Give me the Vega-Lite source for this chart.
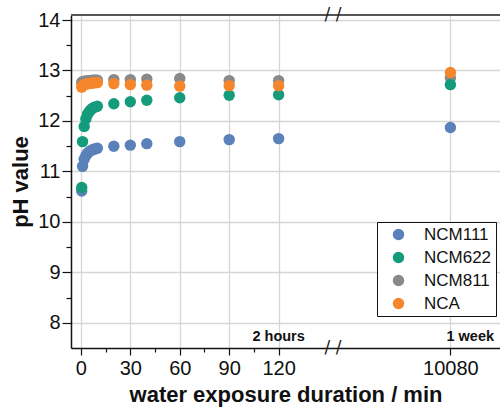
{
  "$schema": "https://vega.github.io/schema/vega-lite/v6.json",
  "width": 429,
  "height": 333,
  "autosize": {"type": "none"},
  "padding": {"left": 71, "top": 15, "right": 0, "bottom": 59},
  "background": "white",
  "config": {
    "view": {"stroke": null},
    "font": "Liberation Sans",
    "axis": {"labelFont": "Liberation Sans", "titleFont": "Liberation Sans"}
  },
  "datasets": {
    "ph": [
      {"s": "NCM811", "t": 0.5, "ph": 12.76}, {"s": "NCM811", "t": 1, "ph": 12.78}, {"s": "NCM811", "t": 2, "ph": 12.79},
      {"s": "NCM811", "t": 3, "ph": 12.79}, {"s": "NCM811", "t": 4, "ph": 12.8}, {"s": "NCM811", "t": 5, "ph": 12.8},
      {"s": "NCM811", "t": 6, "ph": 12.8}, {"s": "NCM811", "t": 7, "ph": 12.81}, {"s": "NCM811", "t": 8, "ph": 12.81},
      {"s": "NCM811", "t": 9, "ph": 12.81}, {"s": "NCM811", "t": 10, "ph": 12.81}, {"s": "NCM811", "t": 20, "ph": 12.82},
      {"s": "NCM811", "t": 30, "ph": 12.82}, {"s": "NCM811", "t": 40, "ph": 12.83}, {"s": "NCM811", "t": 60, "ph": 12.84},
      {"s": "NCM811", "t": 90, "ph": 12.8}, {"s": "NCM811", "t": 120, "ph": 12.8}, {"s": "NCM811", "t": 10080, "ph": 12.85},

      {"s": "NCM111", "t": 0.5, "ph": 10.61}, {"s": "NCM111", "t": 1, "ph": 11.1}, {"s": "NCM111", "t": 2, "ph": 11.24},
      {"s": "NCM111", "t": 3, "ph": 11.31}, {"s": "NCM111", "t": 4, "ph": 11.36}, {"s": "NCM111", "t": 5, "ph": 11.39},
      {"s": "NCM111", "t": 6, "ph": 11.41}, {"s": "NCM111", "t": 7, "ph": 11.43}, {"s": "NCM111", "t": 8, "ph": 11.44},
      {"s": "NCM111", "t": 9, "ph": 11.45}, {"s": "NCM111", "t": 10, "ph": 11.46}, {"s": "NCM111", "t": 20, "ph": 11.5},
      {"s": "NCM111", "t": 30, "ph": 11.52}, {"s": "NCM111", "t": 40, "ph": 11.55}, {"s": "NCM111", "t": 60, "ph": 11.59},
      {"s": "NCM111", "t": 90, "ph": 11.63}, {"s": "NCM111", "t": 120, "ph": 11.65}, {"s": "NCM111", "t": 10080, "ph": 11.87},

      {"s": "NCM622", "t": 0.5, "ph": 10.68}, {"s": "NCM622", "t": 1, "ph": 11.59}, {"s": "NCM622", "t": 2, "ph": 11.89},
      {"s": "NCM622", "t": 3, "ph": 12.04}, {"s": "NCM622", "t": 4, "ph": 12.13}, {"s": "NCM622", "t": 5, "ph": 12.18},
      {"s": "NCM622", "t": 6, "ph": 12.22}, {"s": "NCM622", "t": 7, "ph": 12.25}, {"s": "NCM622", "t": 8, "ph": 12.27},
      {"s": "NCM622", "t": 9, "ph": 12.28}, {"s": "NCM622", "t": 10, "ph": 12.29}, {"s": "NCM622", "t": 20, "ph": 12.34},
      {"s": "NCM622", "t": 30, "ph": 12.38}, {"s": "NCM622", "t": 40, "ph": 12.41}, {"s": "NCM622", "t": 60, "ph": 12.46},
      {"s": "NCM622", "t": 90, "ph": 12.51}, {"s": "NCM622", "t": 120, "ph": 12.52}, {"s": "NCM622", "t": 10080, "ph": 12.72},

      {"s": "NCA", "t": 0.5, "ph": 12.67}, {"s": "NCA", "t": 1, "ph": 12.7}, {"s": "NCA", "t": 2, "ph": 12.72},
      {"s": "NCA", "t": 3, "ph": 12.73}, {"s": "NCA", "t": 4, "ph": 12.74}, {"s": "NCA", "t": 5, "ph": 12.74},
      {"s": "NCA", "t": 6, "ph": 12.75}, {"s": "NCA", "t": 7, "ph": 12.75}, {"s": "NCA", "t": 8, "ph": 12.76},
      {"s": "NCA", "t": 9, "ph": 12.76}, {"s": "NCA", "t": 10, "ph": 12.76}, {"s": "NCA", "t": 20, "ph": 12.74},
      {"s": "NCA", "t": 30, "ph": 12.72}, {"s": "NCA", "t": 40, "ph": 12.71}, {"s": "NCA", "t": 60, "ph": 12.69},
      {"s": "NCA", "t": 90, "ph": 12.7}, {"s": "NCA", "t": 120, "ph": 12.7}, {"s": "NCA", "t": 10080, "ph": 12.96}
    ],
    "one": [{}]
  },
  "resolve": {"axis": {"x": "independent", "y": "independent"}},
  "layer": [
    {
      "data": {"name": "ph"},
      "mark": {"type": "point", "filled": true, "opacity": 1, "size": 130},
      "encoding": {
        "x": {
          "field": "t",
          "type": "quantitative",
          "scale": {"domain": [-6, 153, 10009, 10110], "range": [0, 262, 262, 429], "nice": false, "zero": false},
          "axis": {
            "orient": "bottom",
            "values": [0, 30, 60, 90, 120, 10080],
            "format": "d",
            "title": "water exposure duration / min",
            "titleFontSize": 22,
            "titleFontWeight": "bold",
            "titleColor": "#111",
            "titlePadding": 6,
            "labelFontSize": 20,
            "labelColor": "#111",
            "labelPadding": 3,
            "labelFlush": false,
            "labelOverlap": false,
            "tickSize": 7,
            "tickColor": "#111",
            "tickWidth": 1.2,
            "domainColor": "#111",
            "domainWidth": 1.5,
            "grid": true,
            "gridColor": "#d6d6d6",
            "gridWidth": 1.3
          }
        },
        "y": {
          "field": "ph",
          "type": "quantitative",
          "scale": {"domain": [7.5, 14.1], "nice": false, "zero": false},
          "axis": {
            "orient": "left",
            "values": [8, 9, 10, 11, 12, 13, 14],
            "title": "pH value",
            "titleFontSize": 22,
            "titleFontWeight": "bold",
            "titleColor": "#111",
            "titlePadding": 5,
            "labelFontSize": 20,
            "labelColor": "#111",
            "labelPadding": 2,
            "labelFlush": false,
            "tickSize": 9,
            "tickColor": "#111",
            "tickWidth": 1.2,
            "domainColor": "#111",
            "domainWidth": 1.5,
            "grid": true,
            "gridColor": "#d6d6d6",
            "gridWidth": 1.3
          }
        },
        "color": {
          "field": "s",
          "type": "nominal",
          "scale": {
            "domain": ["NCM111", "NCM622", "NCM811", "NCA"],
            "range": ["#5a81b9", "#139b7b", "#898989", "#f6862c"]
          },
          "legend": {
            "title": null,
            "orient": "none",
            "legendX": 306,
            "legendY": 207,
            "strokeColor": "#111",
            "fillColor": "white",
            "padding": 4,
            "symbolOffset": 9,
            "symbolType": "circle",
            "symbolSize": 130,
            "symbolStrokeWidth": 0,
            "labelFontSize": 17,
            "labelColor": "#111",
            "labelOffset": 17,
            "rowPadding": 5
          }
        }
      }
    },
    {
      "data": {"name": "one"},
      "mark": {"type": "rule", "color": "#555", "strokeWidth": 2},
      "encoding": {"y": {"datum": 14.1, "axis": null}}
    },
    {
      "data": {"name": "one"},
      "mark": {"type": "text", "text": "/ /", "fontSize": 17, "font": "DejaVu Sans", "color": "#222", "baseline": "middle", "align": "center"},
      "encoding": {
        "x": {
          "datum": 153,
          "axis": {
            "orient": "bottom",
            "values": [15, 45, 75, 105],
            "labels": false,
            "domain": false,
            "grid": false,
            "title": null,
            "tickSize": 4,
            "tickColor": "#111",
            "tickWidth": 1.2
          }
        },
        "y": {
          "datum": 7.5,
          "axis": {
            "orient": "left",
            "values": [8.5, 9.5, 10.5, 11.5, 12.5, 13.5],
            "labels": false,
            "domain": false,
            "grid": false,
            "title": null,
            "tickSize": 5,
            "tickColor": "#111",
            "tickWidth": 1.2
          }
        }
      }
    },
    {
      "data": {"name": "one"},
      "mark": {"type": "text", "text": "/ /", "fontSize": 17, "font": "DejaVu Sans", "color": "#222", "baseline": "middle", "align": "center"},
      "encoding": {
        "x": {"datum": 153, "axis": null},
        "y": {"datum": 14.1, "axis": null}
      }
    },
    {
      "data": {"name": "one"},
      "mark": {"type": "text", "text": "2 hours", "fontSize": 14.5, "fontWeight": "bold", "color": "#111", "baseline": "alphabetic", "align": "center"},
      "encoding": {
        "x": {"datum": 120, "axis": null},
        "y": {"datum": 7.645, "axis": null}
      }
    },
    {
      "data": {"name": "one"},
      "mark": {"type": "text", "text": "1 week", "fontSize": 14.5, "fontWeight": "bold", "color": "#111", "baseline": "alphabetic", "align": "center"},
      "encoding": {
        "x": {"datum": 10092, "axis": null},
        "y": {"datum": 7.645, "axis": null}
      }
    }
  ]
}
